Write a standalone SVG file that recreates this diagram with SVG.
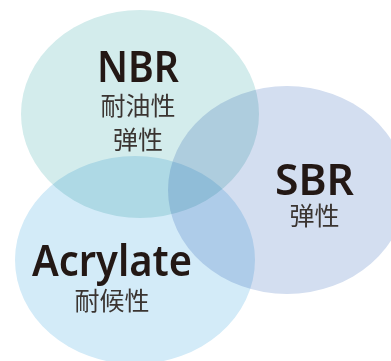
<svg xmlns="http://www.w3.org/2000/svg" width="391" height="361" viewBox="0 0 391 361">
<style>
.c{mix-blend-mode:multiply}
.t{font-family:"Noto Sans","Open Sans",sans-serif;font-weight:600;fill:#231815;text-anchor:middle}
.s{font-family:"Noto Sans CJK SC","Noto Sans CJK JP",sans-serif;font-weight:400;fill:#3a3431;text-anchor:middle;font-size:25px}
</style>
<rect width="391" height="361" fill="#ffffff"/>
<g id="connectors"></g>
<g id="nbr">
<ellipse class="c" cx="140" cy="114" rx="119" ry="104" fill="#d3ecec"/>
</g>
<g id="sbr">
<ellipse class="c" cx="287" cy="190" rx="119" ry="104" fill="#d3def0"/>
</g>
<g id="acrylate">
<ellipse class="c" cx="135" cy="260" rx="120" ry="104" fill="#d3ebf8"/>
</g>
<g id="labels">
<text class="t" x="138" y="82" font-size="44" textLength="82" lengthAdjust="spacingAndGlyphs">NBR</text>
<text class="s" x="138" y="115">耐油性</text>
<text class="s" x="138" y="149">弹性</text>
<text class="t" x="314.5" y="195" font-size="44" textLength="79" lengthAdjust="spacingAndGlyphs">SBR</text>
<text class="s" x="314.5" y="225">弹性</text>
<text class="t" x="112" y="276" font-size="43" textLength="160" lengthAdjust="spacingAndGlyphs">Acrylate</text>
<text class="s" x="112" y="310">耐候性</text>
</g>
</svg>
